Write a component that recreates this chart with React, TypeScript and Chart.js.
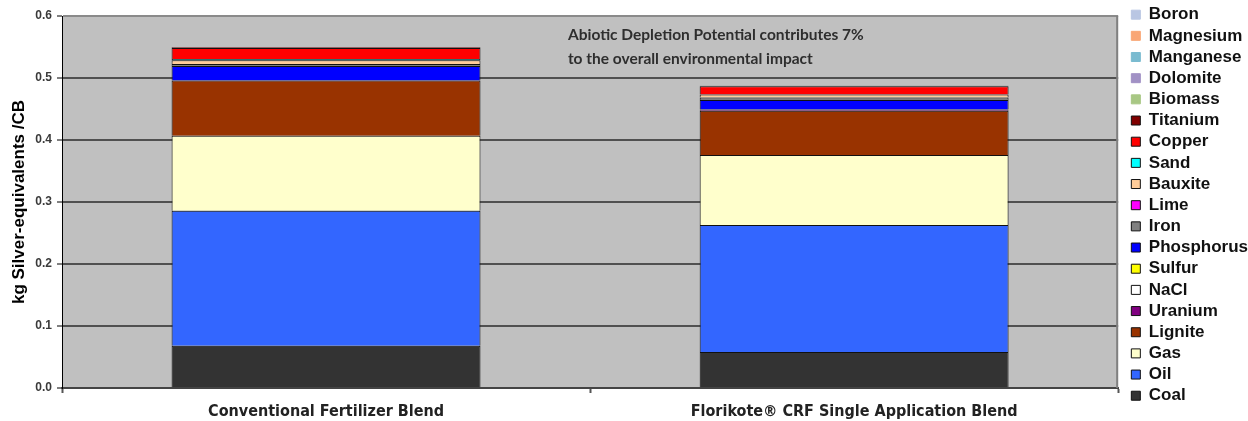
import React, { useEffect, useRef } from 'react';
import { Chart, registerables } from 'chart.js';

Chart.register(...registerables);

// ---------- data ----------
const categories = ['Conventional Fertilizer Blend', 'Florikote® CRF Single Application Blend'];

const coal = [0.068, 0.058];
const oil = [0.218, 0.205];
const gas = [0.121, 0.113];
const lignite = [0.089, 0.071];
const uranium = [0, 0.002];
const nacl = [0, 0];
const sulfur = [0, 0];
const phosphorus = [0.0235, 0.0155];
const iron = [0.003, 0.004];
const lime = [0, 0];
const bauxite = [0.006, 0.005];
const sand = [0.002, 0];
const copper = [0.018, 0.013];
const titanium = [0.001, 0.001];
const biomass = [0, 0];
const dolomite = [0, 0];
const manganese = [0, 0];
const magnesium = [0, 0];
const boron = [0, 0];

const yTicks = [0, 0.1, 0.2, 0.3, 0.4, 0.5, 0.6];
const yTitle = 'kg Silver-equivalents /CB';
const annotationLines = [
  'Abiotic Depletion Potential contributes 7%',
  'to the overall environmental impact',
];

// series table (bottom of stack first)
const series = [
  { label: 'Coal', data: coal, color: '#333333', bordered: true },
  { label: 'Oil', data: oil, color: '#3366FF', bordered: true },
  { label: 'Gas', data: gas, color: '#FFFFCC', bordered: true },
  { label: 'Lignite', data: lignite, color: '#993300', bordered: true },
  { label: 'Uranium', data: uranium, color: '#800080', bordered: true },
  { label: 'NaCl', data: nacl, color: '#FFFFFF', bordered: true },
  { label: 'Sulfur', data: sulfur, color: '#FFFF00', bordered: true },
  { label: 'Phosphorus', data: phosphorus, color: '#0000FF', bordered: true },
  { label: 'Iron', data: iron, color: '#808080', bordered: true },
  { label: 'Lime', data: lime, color: '#FF00FF', bordered: true },
  { label: 'Bauxite', data: bauxite, color: '#FFCC99', bordered: true },
  { label: 'Sand', data: sand, color: '#00FFFF', bordered: true },
  { label: 'Copper', data: copper, color: '#FF0000', bordered: true },
  { label: 'Titanium', data: titanium, color: '#800000', bordered: true },
  { label: 'Biomass', data: biomass, color: '#A8C784', bordered: false },
  { label: 'Dolomite', data: dolomite, color: '#A191C5', bordered: false },
  { label: 'Manganese', data: manganese, color: '#7ABBD0', bordered: false },
  { label: 'Magnesium', data: magnesium, color: '#F9A675', bordered: false },
  { label: 'Boron', data: boron, color: '#B9C6E3', bordered: false },
];

const SANS = "'Liberation Sans', Arial, sans-serif";
const NARROW = "'Liberation Sans Narrow', 'Arial Narrow', 'DejaVu Sans Condensed', sans-serif";
const CAL = "Lato, 'Open Sans', sans-serif";

const plotPlugin = {
  id: 'plotDecor',
  beforeDraw(chart: any) {
    const { ctx, chartArea: a } = chart;
    ctx.save();
    ctx.fillStyle = '#C0C0C0';
    ctx.fillRect(a.left, a.top, a.right - a.left, a.bottom - a.top);
    ctx.restore();
  },
  beforeDatasetsDraw(chart: any) {
    const { ctx, chartArea: a } = chart;
    ctx.save();
    ctx.strokeStyle = '#808080';
    ctx.lineWidth = 2;
    ctx.beginPath();
    ctx.moveTo(a.right - 1, a.top);
    ctx.lineTo(a.right - 1, a.bottom);
    ctx.stroke();
    ctx.restore();
  },
  afterDraw(chart: any) {
    const { ctx, chartArea: a } = chart;
    const w = a.right - a.left;
    ctx.save();
    ctx.font = `bold 15.5px ${CAL}`;
    ctx.fillStyle = '#2e2e2e';
    ctx.textAlign = 'left';
    ctx.textBaseline = 'alphabetic';
    const x = a.left + 0.479 * w;
    ctx.fillText(annotationLines[0], x, a.top + 24);
    ctx.fillText(annotationLines[1], x, a.top + 48);
    ctx.restore();
  },
};

export default function App() {
  const ref = useRef<HTMLCanvasElement | null>(null);

  useEffect(() => {
    if (!ref.current) return;
    const chart = new Chart(ref.current, {
      type: 'bar',
      data: {
        labels: categories,
        datasets: series.map((s) => ({
          label: s.label,
          data: s.data,
          backgroundColor: s.color,
          borderColor: s.bordered ? '#111111' : s.color,
          borderWidth: 1,
          xAxisID: 'x',
          yAxisID: 'y',
        })),
      },
      options: {
        responsive: false,
        animation: false,
        devicePixelRatio: 1,
        layout: { padding: { top: 2, right: -10, bottom: 0, left: 0 } },
        datasets: {
          bar: { barPercentage: 1, categoryPercentage: 0.585 },
        },
        plugins: {
          tooltip: { enabled: false },
          legend: {
            position: 'right',
            align: 'start',
            reverse: true,
            labels: {
              boxWidth: 9,
              boxHeight: 9,
              padding: 4.17,
              color: '#111111',
              font: { family: SANS, size: 17, weight: 'bold' },
            },
          },
        },
        scales: {
          x: {
            type: 'category',
            position: 'bottom',
            stacked: true,
            grid: {
              offset: true,
              drawOnChartArea: false,
              drawTicks: true,
              tickLength: 5,
              tickColor: '#555555',
              tickWidth: 2,
            },
            border: { color: '#444444', width: 2 },
            ticks: {
              padding: 9,
              color: '#222222',
              font: { family: NARROW, size: 16, weight: 'bold' },
            },
            afterFit: (s: any) => {
              s.height = 33;
            },
          },
          xTop: {
            type: 'category',
            position: 'top',
            display: true,
            grid: { display: false, drawTicks: false },
            border: { display: false },
            ticks: { display: false },
            afterFit: (s: any) => {
              s.height = 14;
            },
          },
          yRight: {
            type: 'linear',
            position: 'right',
            display: true,
            grid: { display: false, drawTicks: false },
            border: { display: false },
            ticks: { display: false },
            afterFit: (s: any) => {
              s.width = 9;
            },
          },
          y: {
            type: 'linear',
            position: 'left',
            stacked: true,
            min: 0,
            max: 0.6,
            afterBuildTicks: (s: any) => {
              s.ticks = yTicks.map((v) => ({ value: v }));
            },
            grid: {
              color: (c: any) => (c.tick && c.tick.value >= 0.6 ? '#8A8A8A' : '#505050'),
              lineWidth: 2,
              drawTicks: true,
              tickLength: 5,
              tickColor: '#000000',
              tickWidth: 1,
            },
            border: { color: '#000000', width: 1 },
            ticks: {
              padding: 5,
              color: '#3a3a3a',
              font: { family: SANS, size: 12, weight: 'bold' },
              callback: (v: any) => Number(v).toFixed(1),
            },
            title: {
              display: true,
              text: yTitle,
              color: '#000000',
              font: { family: SANS, size: 17, weight: 'bold' },
              padding: { top: 9, bottom: 0 },
            },
            afterFit: (s: any) => {
              s.width = 62;
            },
          },
        },
      },
      plugins: [plotPlugin],
    } as any);
    return () => chart.destroy();
  }, []);

  return (
    <div style={{ position: 'fixed', left: 0, top: 0, width: 1248, height: 421, background: '#fff' }}>
      <canvas ref={ref} width={1248} height={421} style={{ display: 'block' }} />
    </div>
  );
}
